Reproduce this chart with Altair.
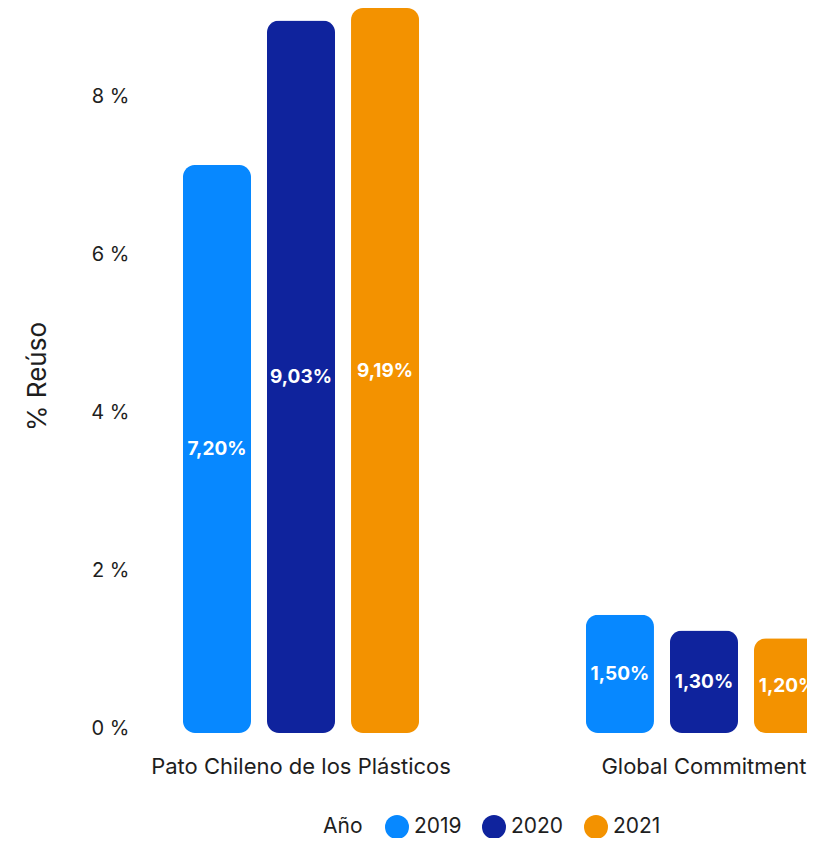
import altair as alt
import pandas as pd

categories = ["Pato Chileno de los Plásticos", "Global Commitment"]
years = ["2019", "2020", "2021"]
pato_values = [7.20, 9.03, 9.19]
global_values = [1.50, 1.30, 1.20]
colors = ["#0788FF", "#0F239D", "#F39200"]
y_ticks = [0, 2, 4, 6, 8]

rows = []
for cat, vals in zip(categories, [pato_values, global_values]):
    for yr, v in zip(years, vals):
        rows.append({"cat": cat, "year": yr, "value": v})
df = pd.DataFrame(rows)

FONT = "Inter"
TXT = "#1e1e1e"

y_axis = alt.Axis(values=y_ticks, labelExpr="datum.value + ' %'", grid=False,
                  domain=False, ticks=False, labelFontSize=20, labelFont=FONT,
                  labelColor=TXT, labelPadding=6, labelOffset=-5,
                  titleFont=FONT, titleFontSize=26, titleFontWeight="normal",
                  titleColor=TXT, titlePadding=40, titleY=368)
y_scale = alt.Scale(domain=[0, 9.19], nice=False)

base = alt.Chart(df).encode(
    x=alt.X(
        "cat:N", sort=categories,
        scale=alt.Scale(range=[0, 735], paddingInner=0.414, paddingOuter=0.119),
        axis=alt.Axis(title=None, labelAngle=0, domain=False, ticks=False,
                      labelFontSize=22, labelPadding=23, labelFont=FONT,
                      labelColor=TXT, labelLimit=500),
    ),
    xOffset=alt.XOffset("year:N", sort=years,
                        scale=alt.Scale(paddingInner=0.19, paddingOuter=0)),
)

bars = base.mark_bar(cornerRadius=12).encode(
    y=alt.Y("value:Q", title="% Reúso", scale=y_scale, axis=y_axis),
    color=alt.Color(
        "year:N", sort=years,
        scale=alt.Scale(domain=years, range=colors),
        legend=alt.Legend(orient="none", legendX=188, legendY=807,
                          direction="horizontal", title="Año", titleOrient="left",
                          titleFont=FONT, titleFontSize=21, titleFontWeight="normal",
                          titleColor=TXT, titlePadding=22,
                          labelFont=FONT, labelFontSize=21, labelColor=TXT,
                          labelOffset=5, symbolType="circle", symbolSize=576,
                          symbolStrokeWidth=0, symbolOpacity=1, columnPadding=20),
    ),
)

labels = base.transform_calculate(
    mid="datum.value / 2",
    lab="replace(format(datum.value, '.2f'), '.', ',') + '%'",
).mark_text(font=FONT, fontWeight="bold", fontSize=19, color="white").encode(
    y=alt.Y("mid:Q", title="% Reúso", scale=y_scale, axis=y_axis),
    text="lab:N",
)

chart = alt.layer(bars, labels).properties(
    width=672, height=725,
    autosize=alt.AutoSizeParams(type="none"),
    padding={"left": 127, "top": 0, "right": 0, "bottom": 105},
).configure_view(stroke=None)

chart.save("out.html", embed_options={"renderer": "svg", "actions": False})
